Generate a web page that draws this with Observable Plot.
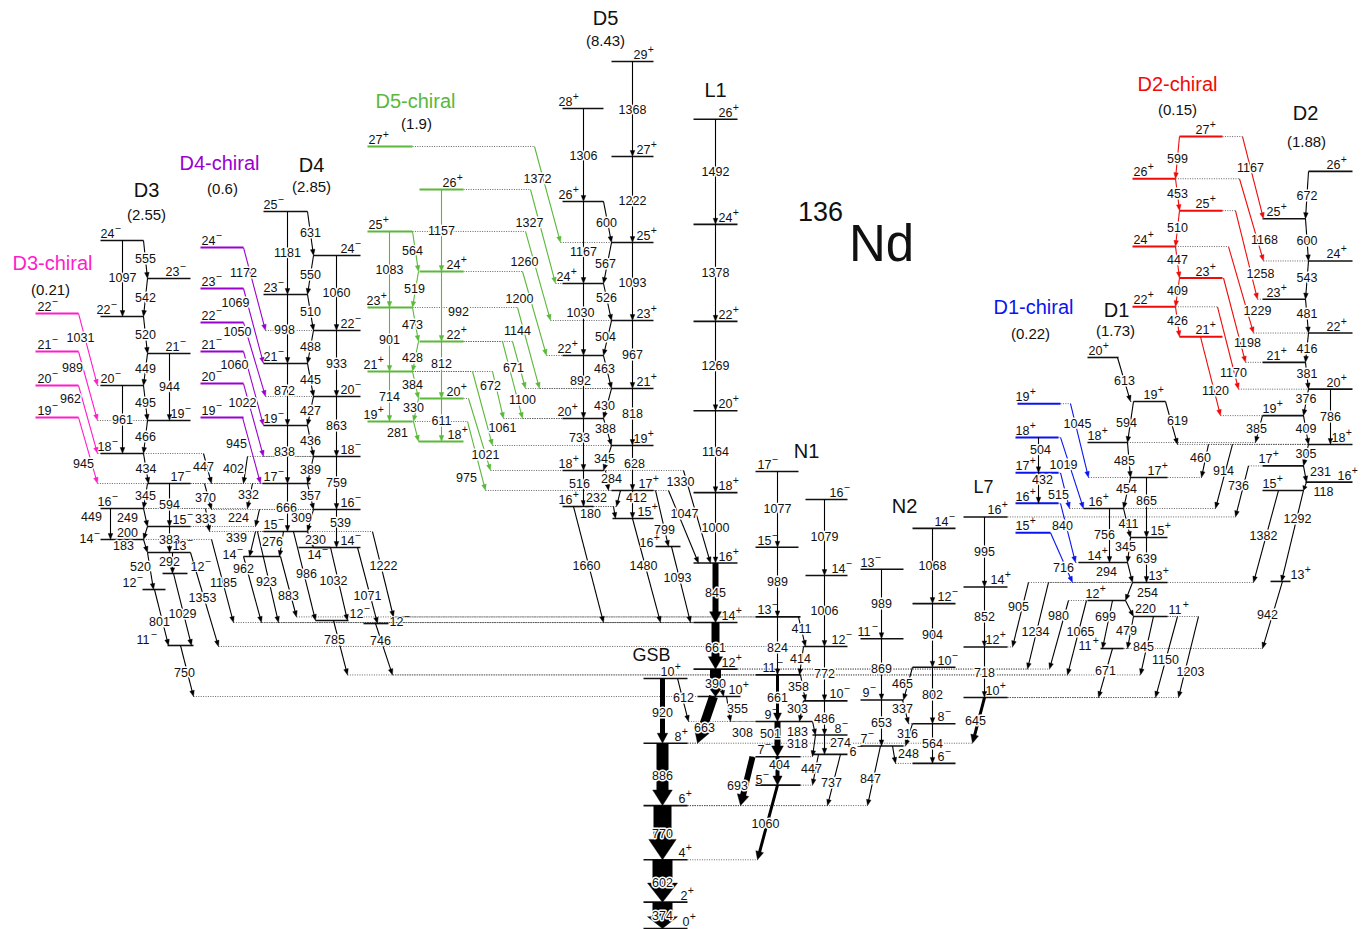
<!DOCTYPE html>
<html><head><meta charset="utf-8">
<script src="https://cdn.jsdelivr.net/npm/d3@7"></script>
<script src="https://cdn.jsdelivr.net/npm/@observablehq/plot@0.6"></script>
<style>body{margin:0;background:#fff;}#chart{width:1365px;height:929px;}</style>
</head><body><div id="chart"></div>
<script>
// ---------- data: 136Nd level scheme ----------
// drawing scale: 0.0704 px per keV, 0 keV at row 928
const K = 14.2045, Y0 = 928;
const bandColor = {D3c:"#ff1ccb", D4c:"#9a00d0", D5c:"#5ab83a", D1c:"#0a14f0", D2c:"#f00a0a"};

// [id, spin, energy keV, x0, x1, spin-label x, label dy]
const levelsD3c = [["D3c_22","22-",8736,35,78,37],["D3c_21","21-",8196,35,78,37],["D3c_20","20-",7713,35,78,37],["D3c_19","19-",7259,35,78,37]];
const levelsD3 = [["D3_24","24-",9773,100,143,100],["D3_23","23-",9233,147,190,165],["D3_22","22-",8693,100,143,96],["D3_21","21-",8168,147,190,165],
 ["D3_20","20-",7713,100,143,100],["D3_19","19-",7216,147,190,170],["D3_18","18-",6747,100,143,97],["D3_17","17-",6321,147,190,170],
 ["D3_16","16-",5966,100,143,97],["D3_15","15-",5710,147,190,172],["D3_14","14-",5526,100,143,79,6],["D3_13","13-",5341,147,190,172],
 ["D3_12a","12-",5043,162,187,190],["D3_12b","12-",4815,142,165,122],["D3_11","11-",4020,167,193,136,1.5]];
const levelsD4c = [["D4c_24","24-",9673,200,243,201],["D4c_23","23-",9091,200,243,201],["D4c_22","22-",8608,200,243,201],["D4c_21","21-",8196,200,243,201],["D4c_20","20-",7741,200,243,201],["D4c_19","19-",7259,200,243,201]];
const levelsD4 = [["D4_25","25-",10185,263,307,263],["D4_24","24-",9560,313,360,340],["D4_23","23-",9006,263,307,263],["D4_22","22-",8494,313,360,340],
 ["D4_21","21-",8026,263,307,263],["D4_20","20-",7557,313,360,340],["D4_19","19-",7145,263,307,263],["D4_18","18-",6705,313,360,340],
 ["D4_17","17-",6321,262,310,263],["D4_16","16-",5952,313,360,340],["D4_15","15-",5639,263,307,263],["D4_14","14-",5412,313,360,340],
 ["D4_14d","14-",5412,298,330,307,14],
 ["D4_14c","14-",5284,243,280,222,5],["D4_12a","12-",4375,315,348,349],["D4_12b","12-",4332,363,388,389,5]];
const levelsD5c = [["D5c_27","27+",11108,367,412,368],["D5c_26","26+",10497,419,463,442],["D5c_25","25+",9901,367,412,368],["D5c_24","24+",9332,419,463,446],
 ["D5c_23","23+",8821,367,412,366],["D5c_22","22+",8338,419,463,446],["D5c_21","21+",7912,367,412,363],["D5c_20","20+",7528,419,463,446],
 ["D5c_19","19+",7202,367,412,363],["D5c_18","18+",6918,418,463,447]];
const levelsD5 = [["D5_29","29+",12315,611,653,633],["D5_28","28+",11648,562,603,558],["D5_27","27+",10966,611,653,636],["D5_26","26+",10327,562,603,558],
 ["D5_25","25+",9744,611,653,636],["D5_24","24+",9162,562,603,556],["D5_23","23+",8636,611,653,636],["D5_22","22+",8139,562,603,557],
 ["D5_21","21+",7670,611,653,636],["D5_20","20+",7244,562,603,557],["D5_19","19+",6861,611,653,633],["D5_18","18+",6506,562,603,558],
 ["D5_17","17+",6222,611,653,638],["D5_16","16+",5994,562,593,558],["D5_15","15+",5824,612,653,637],["D5_16b","16+",5426,655,680,639,3]];
const levelsL1 = [["L1_26","26+",11494,693,737,718],["L1_24","24+",10002,693,737,718],["L1_22","22+",8624,693,737,718],["L1_20","20+",7355,693,737,718],
 ["L1_18","18+",6191,693,737,718],["L1_16","16+",5191,693,737,718],["L1_14","14+",4346,693,737,721],["L1_12","12+",3685,693,737,721],["L1_10","10+",3295,697,740,728]];
const levelsGSB = [["GSB_10","10+",3552,643,687,660],["GSB_8","8+",2632,643,687,674],["GSB_6","6+",1746,643,687,678],["GSB_4","4+",976,643,687,678],["GSB_2","2+",374,643,687,680],["GSB_0","0+",0,643,687,682]];
const levelsN1 = [["N1_17","17-",6492,755,798,757],["N1_15","15-",5415,755,798,757],["N1_13","13-",4426,755,800,757],["N1_11","11-",3602,755,800,762],
 ["N1_9","9-",2941,755,812,764],["N1_7","7-",2440,755,800,757],["N1_5","5-",2036,755,800,755,1.5],
 ["N1_16","16-",6094,805,847,829],["N1_14","14-",5014,805,847,831],["N1_12","12-",4006,803,847,831],["N1_10","10-",3234,803,847,829],["N1_8","8-",2748,812,847,834],["N1_6","6-",2474,813,847,849,4]];
const levelsN2 = [["N2_13","13-",5104,860,903,860],["N2_11","11-",4115,860,903,857],["N2_9","9-",3246,860,903,862],["N2_7","7-",2593,860,903,860],
 ["N2_14","14-",5683,912,955,934],["N2_12","12-",4615,912,955,937],["N2_10","10-",3711,912,955,937],["N2_8","8-",2909,912,955,937],["N2_6","6-",2345,912,955,937]];
const levelsL7 = [["L7_16","16+",5846,963,1007,987],["L7_14","14+",4851,963,1007,990],["L7_12","12+",3999,963,1007,985],["L7_10","10+",3281,963,1007,985]];
const levelsD1c = [["D1c_19","19+",7455,1017,1060,1015],["D1c_18","18+",6976,1015,1058,1015],["D1c_17","17+",6472,1015,1058,1015],["D1c_16","16+",6040,1015,1058,1015],["D1c_15","15+",5622,1015,1050,1015]];
const levelsD1 = [["D1_20","20+",8111,1087,1118,1088],["D1_19","19+",7486,1133,1165,1143],["D1_18","18+",6903,1087,1127,1087],["D1_17","17+",6406,1130,1167,1147],
 ["D1_16","16+",5966,1083,1123,1088],["D1_15","15+",5554,1130,1167,1150],["D1_14","14+",5199,1078,1127,1087],["D1_13","13+",4915,1132,1167,1148],
 ["D1_12","12+",4659,1087,1125,1085],["D1_11","11+",4432,1133,1167,1168],["D1_11b","11+",3977,1100,1123,1078,4]];
const levelsD2 = [["D2_26","26+",10754,1308,1352,1326],["D2_25","25+",10082,1262,1305,1266],["D2_24","24+",9482,1308,1352,1326],["D2_23","23+",8939,1262,1305,1266],
 ["D2_22","22+",8458,1308,1352,1326],["D2_21","21+",8042,1262,1305,1266],["D2_20","20+",7661,1308,1352,1326],["D2_19","19+",7285,1262,1303,1262],
 ["D2_18","18+",6876,1308,1352,1331],["D2_17","17+",6571,1262,1303,1258],["D2_16","16+",6340,1305,1352,1337],["D2_15","15+",6222,1262,1303,1262],["D2_13","13+",4930,1270,1290,1290]];
const levelsD2c = [["D2c_27","27+",11249,1179,1222,1195],["D2c_26","26+",10650,1132,1175,1133],["D2c_25","25+",10197,1179,1222,1195],["D2c_24","24+",9687,1132,1175,1133],
 ["D2c_23","23+",9240,1179,1222,1195],["D2c_22","22+",8831,1132,1175,1133],["D2c_21","21+",8405,1179,1222,1195]];

// [from, to, E-gamma label, x at start, x at end, {w: width, lx/ly: label spot, c: colour}]
const gammasD3 = [
 ["D3c_22","D3_20","1031",78,97,{lx:80,ly:337}],["D3c_21","D3_19","989",78,97,{lx:72,ly:367}],
 ["D3c_20","D3_18","962",78,97,{lx:70,ly:398}],["D3c_19","D3_17","945",78,97,{lx:83,ly:463}],
 ["D3_24","D3_22","1097",122,122],["D3_24","D3_23","555",143,147],["D3_23","D3_22","542",147,143],["D3_22","D3_21","520",143,147],
 ["D3_21","D3_20","449",147,143],["D3_21","D3_19","944",169,169],["D3_20","D3_19","495",143,147],["D3_20","D3_18","961",122,122],
 ["D3_19","D3_18","466",147,143],["D3_18","D3_17","434",143,148],["D3_17","D3_16","345",147,143],["D3_17","D3_15","594",169,169],
 ["D3_16","D3_15","249",143,147,{lx:127}],["D3_16","D3_14","449",110,110,{lx:91,ly:516}],["D3_15","D3_14","200",147,143,{lx:127}],
 ["D3_15","D3_13","383",169,169],["D3_14","D3_13","183",143,147,{lx:123}],["D3_13","D3_12b","520",147,153,{lx:140,ly:566}],
 ["D3_13","D3_12a","292",172,172,{lx:169,ly:561}],["D3_12a","D3_11","1029",173,191,{lx:182,ly:613}],["D3_12b","D3_11","801",154,168,{lx:159,ly:621}],
 ["D3_11","L1_10","750",180,193,{lx:184,ly:672}],["D3_13","N1_12","1353",190,218,{lx:202,ly:597}],
 ["D3_18","D4_17","447",203,211,{lx:203,ly:466}],["D4_18","D3_17","402",247,243,{lx:233,ly:468}],["D3_17","D4_16","370",204,211,{lx:205,ly:497}],
 ["D4_17","D3_16","332",252,247,{lx:248,ly:494}],["D3_16","D4_15","333",205,209,{lx:205,ly:518}],["D4_16","D3_15","224",259,255,{lx:238,ly:517}],
 ["D4_15","D4_14c","339",255,249,{lx:236,ly:537}],["D4_15","D4_14c","276",283,279,{lx:272,ly:541}],
 ["D3_14","L1_14","1185",211,233,{lx:223,ly:582}],["D4_14c","L1_14","962",243,261,{lx:243,ly:568}],["D4_15","L1_14","923",257,278,{lx:266,ly:581}],
 ["D4_14c","N1_13","883",280,296,{lx:288,ly:595}],["D4_15","D4_12a","986",293,315,{lx:306,ly:573}],["D4_14","D4_12a","1032",330,347,{lx:333,ly:580}],
 ["D4_14","D4_12b","1071",357,377,{lx:367,ly:595}],["D4_15","N1_13","1222",372,393,{lx:383,ly:565}],
 ["D4_12a","N1_11","785",333,347,{lx:334,ly:639}],["D4_12b","N1_11","746",375,392,{lx:380,ly:640}]];
const gammasD4 = [
 ["D4c_24","D4_22","1172",243,265,{lx:243,ly:272}],["D4c_23","D4_21","1069",243,263,{lx:235,ly:302}],["D4c_22","D4_20","1050",243,265,{lx:237,ly:331}],
 ["D4c_21","D4_19","1060",243,263,{lx:234,ly:364}],["D4c_20","D4_18","1022",243,263,{lx:242,ly:402}],["D4c_19","D4_17","945",242,260,{lx:236,ly:443}],
 ["D4_25","D4_24","631",307,313],["D4_25","D4_23","1181",287,287],["D4_24","D4_23","550",313,307],["D4_24","D4_22","1060",336,336],
 ["D4_23","D4_22","510",307,313],["D4_23","D4_21","998",287,287,{lx:284,ly:329}],["D4_22","D4_21","488",313,307],["D4_22","D4_20","933",336,336],
 ["D4_21","D4_20","445",307,313],["D4_21","D4_19","872",287,287,{lx:284,ly:390}],["D4_20","D4_19","427",313,307],["D4_20","D4_18","863",336,336],
 ["D4_19","D4_18","436",307,313],["D4_19","D4_17","838",287,287,{lx:284,ly:451}],["D4_18","D4_17","389",313,307],["D4_18","D4_16","759",336,336],
 ["D4_17","D4_16","357",307,313],["D4_17","D4_15","666",287,287,{lx:286,ly:507}],["D4_16","D4_15","309",313,307,{lx:301,ly:517}],
 ["D4_16","D4_14","539",336,336,{lx:340,ly:522}],["D4_15","D4_14","230",307,313,{lx:315,ly:539}]];
const gammasD5 = [
 ["D5c_27","D5_25","1372",534,560,{lx:537,ly:178}],["D5c_26","D5_24","1327",530,555,{lx:529,ly:222}],["D5c_25","D5_23","1260",525,550,{lx:524,ly:261}],
 ["D5c_24","D5_22","1200",522,546,{lx:519,ly:298}],["D5c_23","D5_21","1144",517,539,{lx:517,ly:330}],["D5c_22","D5_21","671",512,525,{lx:513,ly:367}],
 ["D5c_22","D5_20","1100",502,522,{lx:522,ly:399}],["D5c_21","D5_20","672",492,503,{lx:490,ly:385}],["D5c_21","D5_19","1061",472,492,{lx:502,ly:427}],
 ["D5c_20","D5_18","1021",468,490,{lx:485,ly:454}],["D5c_19","D5_17","975",467,485,{lx:466,ly:477}],
 ["D5c_26","D5c_24","1157",441,441],["D5c_25","D5c_24","564",412,418,{lx:412,ly:250}],["D5c_25","D5c_23","1083",389,389,{ly:269}],
 ["D5c_24","D5c_23","519",418,412,{lx:414,ly:288}],["D5c_24","D5c_22","992",441,441,{lx:458,ly:311}],["D5c_23","D5c_22","473",412,418,{lx:412,ly:324}],
 ["D5c_23","D5c_21","901",389,389,{ly:339}],["D5c_22","D5c_21","428",418,412,{lx:412,ly:357}],["D5c_22","D5c_20","812",441,441,{ly:363}],
 ["D5c_21","D5c_20","384",412,418,{lx:412,ly:384}],["D5c_21","D5c_19","714",389,389,{ly:396}],["D5c_20","D5c_19","330",418,413,{lx:413,ly:407}],
 ["D5c_20","D5c_18","611",441,441,{ly:420}],["D5c_19","D5c_18","281",413,418,{lx:397,ly:432}],
 ["D5_29","D5_27","1368",632,632,{ly:109}],["D5_28","D5_26","1306",583,583,{ly:155}],["D5_27","D5_25","1222",632,632,{ly:200}],
 ["D5_26","D5_25","600",603,611,{lx:606,ly:222}],["D5_26","D5_24","1167",583,583,{ly:251}],["D5_25","D5_24","567",611,603,{lx:605,ly:263}],
 ["D5_25","D5_23","1093",632,632,{ly:282}],["D5_24","D5_23","526",603,611,{lx:606,ly:297}],["D5_24","D5_22","1030",583,583,{lx:580,ly:312}],
 ["D5_23","D5_22","504",611,603,{lx:605,ly:336}],["D5_23","D5_21","967",632,632,{ly:354}],["D5_22","D5_21","463",603,611,{lx:604,ly:368}],
 ["D5_22","D5_20","892",583,583,{lx:580,ly:380}],["D5_21","D5_20","430",611,603,{lx:604,ly:405}],["D5_21","D5_19","818",632,632,{ly:413}],
 ["D5_20","D5_19","388",603,611,{lx:605,ly:428}],["D5_20","D5_18","733",583,583,{lx:579,ly:437}],["D5_19","D5_18","345",611,603,{lx:604,ly:458}],
 ["D5_19","D5_17","628",632,632,{lx:634,ly:463}],["D5_18","D5_17","284",605,608,{lx:611,ly:478}],["D5_18","D5_16","516",583,583,{lx:579,ly:483}],
 ["D5_17","D5_16","232",620,616,{lx:596,ly:497}],["D5_16","D5_15","180",613,615,{lx:590,ly:513}],["D5_17","D5_15","412",632,632,{lx:636,ly:497}],
 ["D5_16","L1_14","1660",573,603,{lx:586,ly:565}],["D5_15","L1_14","1480",632,660,{lx:643,ly:565}],["D5_17","D5_16b","799",655,668,{lx:664,ly:529}],
 ["D5_16b","L1_14","1093",671,690,{lx:677,ly:577}],["D5_17","L1_16","1047",668,698,{lx:684,ly:513}],["D5_18","L1_16","1330",683,710,{lx:680,ly:481}]];
const gammasMid = [
 ["L1_26","L1_24","1492",715,715],["L1_24","L1_22","1378",715,715],["L1_22","L1_20","1269",715,715],["L1_20","L1_18","1164",715,715],
 ["L1_18","L1_16","1000",715,715],["L1_16","L1_14","845",715,715,{w:6}],["L1_14","L1_12","661",715,715,{w:8,ly:647}],
 ["L1_12","L1_10","390",715,715,{w:11,ly:683}],["L1_10","GSB_8","663",713,697,{w:9,lx:704,ly:727}],
 ["L1_10","N1_9","355",726,730,{lx:737,ly:708}],["N1_11","L1_10","308",719,723,{lx:742,ly:732}],
 ["GSB_2","GSB_0","374",662,662,{w:20,ly:915}],["GSB_4","GSB_2","602",662,662,{w:20,ly:882}],["GSB_6","GSB_4","770",662,662,{w:18,ly:833}],
 ["GSB_8","GSB_6","886",662,662,{w:12,ly:775}],["GSB_10","GSB_8","920",662,662,{w:5,ly:712}],["GSB_10","N1_9","612",677,688,{lx:683,ly:697}],
 ["N1_17","N1_15","1077",777,777],["N1_15","N1_13","989",777,777],["N1_13","N1_11","824",777,777,{ly:647}],
 ["N1_11","N1_9","661",777,777,{w:3,ly:697}],["N1_9","N1_7","501",777,777,{w:6,lx:770,ly:733}],["N1_7","N1_5","404",777,777,{w:4,lx:779,ly:764}],
 ["N1_5","GSB_4","1060",777,757,{w:3,lx:765,ly:823}],["N1_7","GSB_6","693",752,740,{w:6,lx:737,ly:785}],
 ["N1_13","N1_12","411",798,805,{lx:801,ly:628}],["N1_12","N1_11","414",803,799,{lx:800,ly:658}],["N1_11","N1_10","358",800,805,{lx:798,ly:686}],
 ["N1_10","N1_9","303",803,799,{lx:797,ly:708}],["N1_9","N1_8","183",812,815,{lx:797,ly:731}],["N1_8","N1_7","318",815,812,{lx:797,ly:743}],
 ["N1_16","N1_14","1079",824,824],["N1_14","N1_12","1006",824,824],["N1_12","N1_10","772",824,824,{ly:673}],
 ["N1_10","N1_8","486",824,824,{ly:718}],["N1_8","N1_6","274",824,824,{lx:840,ly:742}],
 ["N1_6","N1_5","447",818,812,{lx:811,ly:768}],["N1_6","GSB_6","737",840,827,{lx:831,ly:782}],
 ["N2_13","N2_11","989",881,881],["N2_11","N2_9","869",881,881],["N2_9","N2_7","653",881,881],
 ["N2_7","GSB_6","847",880,867,{lx:870,ly:778}],["N2_7","N2_6","248",892,895,{lx:908,ly:753}],["N2_8","N2_7","316",912,905,{lx:907,ly:733}],
 ["N2_9","N2_8","337",902,908,{lx:902,ly:708}],["N2_10","N2_9","465",912,903,{lx:902,ly:683}],
 ["N2_14","N2_12","1068",932,932],["N2_12","N2_10","904",932,932],["N2_10","N2_8","802",932,932],["N2_8","N2_6","564",932,932],
 ["L7_16","L7_14","995",984,984],["L7_14","L7_12","852",984,984],["L7_12","L7_10","718",984,984,{ly:672}],
 ["L7_10","GSB_8","645",984,972,{w:3,lx:975,ly:720}]];
const gammasRight = [
 ["D1c_19","D1_17","1045",1070,1088,{lx:1077,ly:423}],["D1c_18","D1_16","1019",1060,1083,{lx:1063,ly:464}],["D1c_17","D1_16","515",1060,1069,{lx:1058,ly:494}],
 ["D1c_16","D1_14","840",1060,1075,{lx:1062,ly:525}],["D1c_15","D1_13","716",1050,1072,{lx:1063,ly:567}],
 ["D1c_18","D1c_17","504",1038,1038,{c:"#000",lx:1040,ly:449}],["D1c_17","D1c_16","432",1038,1038,{c:"#000",lx:1042,ly:479}],
 ["D1_20","D1_19","613",1117,1130,{lx:1124,ly:380}],["D1_19","D1_18","594",1133,1127,{lx:1126,ly:422}],["D1_19","D2_18","619",1165,1177,{lx:1177,ly:420}],
 ["D1_18","D1_17","485",1127,1130,{lx:1124,ly:460}],["D1_17","D1_16","454",1130,1123,{lx:1126,ly:488}],["D1_17","D1_15","865",1146,1146,{ly:500}],
 ["D1_16","D1_15","411",1123,1130,{lx:1128,ly:523}],["D1_16","D1_14","756",1109,1109,{lx:1104,ly:534}],["D1_15","D1_14","345",1130,1127,{lx:1125,ly:546}],
 ["D1_15","D1_13","639",1146,1146,{ly:558}],["D1_14","D1_13","294",1127,1132,{lx:1106,ly:571}],["D1_13","D1_12","254",1132,1125,{lx:1147,ly:592}],
 ["D1_12","D1_11","220",1125,1133,{lx:1145,ly:608}],["D1_12","D1_11b","699",1112,1102,{lx:1105,ly:616}],["D1_11","D1_11b","479",1133,1127,{lx:1126,ly:630}],
 ["D1_12","N1_11","1065",1086,1067,{lx:1080,ly:631}],["D1_12","L1_12","980",1068,1049,{lx:1058,ly:615}],["D1_13","L1_12","1234",1048,1027,{lx:1035,ly:631}],
 ["D1_13","L7_12","905",1028,1012,{lx:1018,ly:606}],["D1_11b","L7_10","671",1112,1098,{lx:1105,ly:670}],["D1_11","N1_11","845",1153,1140,{lx:1143,ly:646}],
 ["D1_11","L7_10","1150",1177,1155,{lx:1165,ly:659}],["D1_11","L7_10","1203",1198,1178,{lx:1190,ly:671}],
 ["D2_26","D2_25","672",1308,1305,{ly:195}],["D2_25","D2_24","600",1305,1308,{ly:240}],["D2_24","D2_23","543",1308,1305,{ly:277}],
 ["D2_23","D2_22","481",1305,1308,{ly:313}],["D2_22","D2_21","416",1308,1305,{ly:348}],["D2_21","D2_20","381",1305,1308,{ly:373}],
 ["D2_20","D2_19","376",1308,1303,{ly:398}],["D2_20","D2_18","786",1330,1330,{ly:416}],["D2_19","D2_18","409",1303,1308,{ly:428}],
 ["D2_18","D2_17","305",1308,1303,{ly:453}],["D2_17","D2_16","231",1303,1306,{lx:1320,ly:471}],["D2_16","D2_15","118",1306,1303,{lx:1323,ly:491}],
 ["D2_15","D2_13","1292",1303,1281,{lx:1297,ly:518}],["D2_15","D1_13","1382",1278,1253,{lx:1263,ly:535}],["D2_13","D1_11b","942",1282,1262,{lx:1267,ly:614}],
 ["D2_18","D1_16","914",1232,1215,{lx:1223,ly:470}],["D2_18","D1_17","460",1208,1201,{lx:1200,ly:457}],["D2_17","L7_16","736",1248,1235,{lx:1238,ly:485}],
 ["D2_19","D1_18","385",1262,1255,{lx:1256,ly:428}],
 ["D2c_27","D2c_26","599",1179,1175,{ly:158}],["D2c_26","D2c_25","453",1175,1179,{ly:193}],["D2c_25","D2c_24","510",1179,1175,{ly:227}],
 ["D2c_24","D2c_23","447",1175,1179,{ly:259}],["D2c_23","D2c_22","409",1179,1175,{ly:290}],["D2c_22","D2c_21","426",1175,1179,{ly:320}],
 ["D2c_27","D2_25","1167",1242,1263,{lx:1250,ly:167}],["D2c_26","D2_24","1168",1239,1263,{lx:1264,ly:239}],["D2c_25","D2_23","1258",1235,1257,{lx:1260,ly:273}],
 ["D2c_24","D2_22","1229",1228,1253,{lx:1257,ly:310}],["D2c_23","D2_21","1198",1223,1245,{lx:1247,ly:342}],["D2c_22","D2_20","1170",1217,1238,{lx:1233,ly:372}],
 ["D2c_21","D2_19","1120",1200,1220,{lx:1215,ly:390}]];

// band titles [text, x, row, colour key, size]
const titles = [["D3-chiral",52,263,"D3c",20],["(0.21)",50,290,null,15],["D3",146,190,null,20],["(2.55)",146,215,null,15],
 ["D4-chiral",219,163,"D4c",20],["(0.6)",222,189,null,15],["D4",311,165,null,20],["(2.85)",311,187,null,15],
 ["D5-chiral",415,101,"D5c",20],["(1.9)",416,124,null,15],["D5",605,18,null,20],["(8.43)",605,41,null,15],
 ["L1",715,90,null,20],["N1",806,451,null,20],["N2",904,506,null,20],["L7",983,487,null,18],["GSB",651,655,null,18],
 ["D1-chiral",1033,307,"D1c",20],["(0.22)",1030,334,null,15],["D1",1116,310,null,20],["(1.73)",1115,331,null,15],
 ["D2-chiral",1177,84,"D2c",20],["(0.15)",1177,110,null,15],["D2",1305,113,null,20],["(1.88)",1306,142,null,15]];
const nucleus = [["136",820,212,27],["Nd",881,244,51]];

// ---------- build ----------
const rowE = p => (Y0 - p) * K;          // drawing row -> energy (layout helper)
const eRow = E => Y0 - E / K;
const levels = [...levelsD3c,...levelsD3,...levelsD4c,...levelsD4,...levelsD5c,...levelsD5,...levelsL1,...levelsGSB,...levelsN1,...levelsN2,...levelsL7,...levelsD1c,...levelsD1,...levelsD2,...levelsD2c];
const L = levels.map(([id, spin, E, x0, x1, lx, ldy = 0]) => {
  const band = id.split("_")[0];
  const num = spin.slice(0, -1), sg = spin.slice(-1) === "+" ? "+" : "\u2212";
  return {id, band, num, sg, E, x0, x1, lx, ldy, color: bandColor[band] || "#111", sw: bandColor[band] ? 2 : 1.6,
          En: E + (2.5 - ldy) * K, Es: E + (8.5 - ldy) * K, xs: lx + num.length * 6.95 + 0.3};
});
const lev = Object.fromEntries(L.map(d => [d.id, d]));
const gammas = [...gammasD3,...gammasD4,...gammasD5,...gammasMid,...gammasRight];
const T = [], heads = [], dots = [];
gammas.forEach(([f, t, lab, xa, xb, o = {}], i) => {
  const A = lev[f], B = lev[t];
  if (!A || !B) { console.error("missing", f, t); return; }
  const ya = eRow(A.E), yb = eRow(B.E);
  const dx = xb - xa, dy = yb - ya, len = Math.hypot(dx, dy) || 1;
  const ux = dx / len, uy = dy / len;
  const thick = !!o.w, w = o.w || 1.1;
  const hl = thick ? Math.min(w * 0.8 + 6, len * 0.45) : Math.min(6, len * 0.5);
  const hr = thick ? w * 0.65 + 2 : 2.3;
  const color = o.c || bandColor[A.band] || "#000";
  const cut = thick ? hl * 0.85 : hl * 0.5;
  T.push({xa, Ea: A.E, xe: xb - ux * cut, Ee: rowE(yb - uy * cut), w, color, lab,
          lx: o.lx ?? (xa + xb) / 2, lE: o.ly != null ? rowE(o.ly) : (A.E + B.E) / 2});
  const bx = xb - ux * hl, by = yb - uy * hl;
  [[xb, yb], [bx - uy * hr, by + ux * hr], [bx + uy * hr, by - ux * hr], [xb, yb]].forEach(([x, y]) => heads.push({id: i, x, E: rowE(y), color}));
  for (const [l, x] of [[A, xa], [B, xb]]) {
    if (x < l.x0 - 1.5) dots.push({E: l.E, x1: x, x2: l.x0});
    else if (x > l.x1 + 1.5) dots.push({E: l.E, x1: l.x1, x2: x});
  }
});
const TT = titles.map(([text, x, r, c, s]) => ({text, x, E: rowE(r), color: c ? bandColor[c] : "#111", s}));
const NN = nucleus.map(([text, x, r, s]) => ({text, x, E: rowE(r), s}));

const font = "Liberation Sans, Arial, Helvetica, sans-serif";
const chart = Plot.plot({
  width: 1365, height: 929, margin: 0,
  x: {type: "linear", domain: [0, 1365], range: [0, 1365], axis: null},
  y: {type: "linear", domain: [0, Y0 * K], range: [Y0, 0], axis: null},
  style: {fontFamily: font, background: "#fff", overflow: "visible"},
  marks: [
    Plot.link(dots, {x1: "x1", x2: "x2", y1: "E", y2: "E", stroke: "#555", strokeWidth: 0.9, strokeDasharray: "1,1.4"}),
    Plot.link(L, {x1: "x0", x2: "x1", y1: "E", y2: "E", stroke: d => d.color, strokeWidth: d => d.sw}),
    Plot.link(T, {x1: "xa", y1: "Ea", x2: "xe", y2: "Ee", stroke: d => d.color, strokeWidth: d => d.w}),
    Plot.line(heads, {x: "x", y: "E", z: "id", fill: d => d.color, stroke: d => d.color, strokeWidth: 0.4}),
    Plot.text(T, {x: "lx", y: "lE", text: "lab", fontSize: 12.5, fill: "#111", stroke: "#fff", strokeWidth: 3, paintOrder: "stroke"}),
    Plot.text(L, {x: "lx", y: "En", text: "num", textAnchor: "start", lineAnchor: "bottom", fontSize: 12.5, fill: "#111", stroke: "#fff", strokeWidth: 1.5, paintOrder: "stroke"}),
    Plot.text(L, {x: "xs", y: "Es", text: "sg", textAnchor: "start", lineAnchor: "bottom", fontSize: 10.5, fill: "#111"}),
    Plot.text(TT, {x: "x", y: "E", text: "text", fill: d => d.color, fontSize: d => d.s, lineAnchor: "middle"}),
    Plot.text(NN, {x: "x", y: "E", text: "text", fill: "#111", fontSize: d => d.s, lineAnchor: "middle"})
  ]
});
document.getElementById("chart").appendChild(chart);
</script></body></html>
